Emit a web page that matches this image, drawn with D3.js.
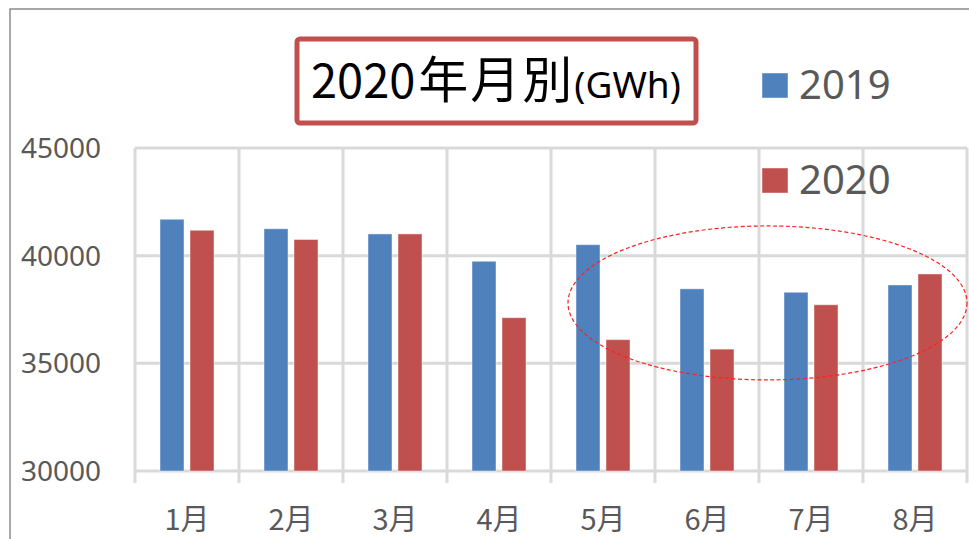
<!DOCTYPE html>
<html>
<head>
<meta charset="utf-8">
<script src="https://cdn.jsdelivr.net/npm/d3@7"></script>
<style>
  html, body { margin: 0; padding: 0; background: #fff; }
  svg { display: block; }
</style>
</head>
<body>
<figure style="margin:0"></figure>
<script>
// data
const months = ["1月", "2月", "3月", "4月", "5月", "6月", "7月", "8月"]
const series = ["2019", "2020"]
const values2019 = [41690, 41250, 41010, 39740, 40510, 38460, 38300, 38640]
const values2020 = [41180, 40750, 41010, 37120, 36100, 35660, 37720, 39150]
const yTicks = [30000, 35000, 40000, 45000]
const highlightMonths = ["5月", "8月"]
const highlightRange = [34230, 41380]

const svgWidth = 969
const svgHeight = 539
const margin = { left: 135, right: 2, top: 148, bottom: 68 }

const svg = d3.select('figure')
  .append('svg')
  .attr('width', svgWidth)
  .attr('height', svgHeight)

// outer frame (top + left)
svg.append('path')
  .attr('d', `M10,${svgHeight} L10,9 L${svgWidth},9`)
  .attr('fill', 'none')
  .attr('stroke', '#8c8c8c')
  .attr('stroke-width', 1.5)

//////// scales ////////
const x = d3.scaleBand()
  .domain(months)
  .range([margin.left, svgWidth - margin.right])
  .padding(0)

const xs = d3.scaleBand()
  .domain(series)
  .range([25, 79])
  .paddingInner(0.2)
  .paddingOuter(0)

const y = d3.scaleLinear()
  .domain([30000, 45000])
  .range([svgHeight - margin.bottom, margin.top])

const color = d3.scaleOrdinal()
  .domain(series)
  .range(["#4F81BD", "#C0504D"])

const grid = '#d9d9d9'

//////// grid ////////
svg.append('g')
  .selectAll('line')
  .data(yTicks)
  .join('line')
  .attr('x1', x.range()[0])
  .attr('x2', x.range()[1])
  .attr('y1', d => y(d))
  .attr('y2', d => y(d))
  .attr('stroke', grid)
  .attr('stroke-width', 3)

const bounds = months.map(m => x(m)).concat([x.range()[1]])
svg.append('g')
  .selectAll('line')
  .data(bounds)
  .join('line')
  .attr('x1', d => d)
  .attr('x2', d => d)
  .attr('y1', y(45000))
  .attr('y2', y(30000) + 12)
  .attr('stroke', grid)
  .attr('stroke-width', 3)

//////// axes labels ////////
svg.append('g')
  .selectAll('text')
  .data(yTicks)
  .join('text')
  .attr('x', 101)
  .attr('y', d => y(d) + 10)
  .attr('text-anchor', 'end')
  .style('font-family', "'Noto Sans', sans-serif")
  .style('font-size', '28px')
  .style('fill', '#595959')
  .text(d => d)

svg.append('g')
  .selectAll('text')
  .data(months)
  .join('text')
  .attr('x', d => x(d) + x.bandwidth() / 2)
  .attr('y', 530)
  .attr('text-anchor', 'middle')
  .style('font-family', "'Noto Sans CJK JP', sans-serif")
  .style('font-size', '29px')
  .style('fill', '#595959')
  .text(d => d)

//////// bars ////////
const rows = months.map((m, i) => ({ month: m, "2019": values2019[i], "2020": values2020[i] }))

svg.append('g')
  .selectAll('g')
  .data(rows)
  .join('g')
  .attr('transform', d => `translate(${x(d.month)},0)`)
  .selectAll('rect')
  .data(d => series.map(s => ({ key: s, value: d[s] })))
  .join('rect')
  .attr('x', d => xs(d.key))
  .attr('y', d => y(d.value))
  .attr('width', xs.bandwidth())
  .attr('height', d => y(30000) - y(d.value))
  .attr('fill', d => color(d.key))
  .attr('stroke', 'rgba(255,255,255,0.45)')
  .attr('stroke-width', 1)

//////// highlight ellipse ////////
const ex0 = x(highlightMonths[0]) + 17
const ex1 = x(highlightMonths[1]) + x.bandwidth()
svg.append('ellipse')
  .attr('cx', (ex0 + ex1) / 2)
  .attr('cy', (y(highlightRange[0]) + y(highlightRange[1])) / 2)
  .attr('rx', (ex1 - ex0) / 2)
  .attr('ry', (y(highlightRange[0]) - y(highlightRange[1])) / 2)
  .attr('fill', 'none')
  .attr('stroke', '#ff2020')
  .attr('stroke-width', 1.2)
  .attr('stroke-dasharray', '4,2.5')

//////// title ////////
svg.append('rect')
  .attr('x', 297)
  .attr('y', 39)
  .attr('width', 399)
  .attr('height', 84)
  .attr('rx', 3)
  .attr('fill', '#fff')
  .attr('stroke', '#C0504D')
  .attr('stroke-width', 5)

const title = svg.append('text')
  .attr('x', 311)
  .attr('y', 98)
  .style('font-family', "'Noto Sans CJK JP', sans-serif")
  .style('fill', '#000')
title.append('tspan')
  .style('font-size', '47px')
  .text('2020')
title.append('tspan')
  .attr('dx', 3)
  .style('font-size', '50px')
  .style('letter-spacing', '2px')
  .text('年月別')
title.append('tspan')
  .style('font-family', "'Noto Sans', sans-serif")
  .style('font-size', '37px')
  .text('(GWh)')

//////// legend ////////
const legend = svg.append('g')
  .selectAll('g')
  .data(series)
  .join('g')
  .attr('transform', (d, i) => `translate(762,${73 + i * 95})`)

legend.append('rect')
  .attr('width', 26)
  .attr('height', 25)
  .attr('fill', d => color(d))
  .attr('stroke', 'rgba(255,255,255,0.45)')

legend.append('text')
  .attr('x', 37)
  .attr('y', 26)
  .style('font-family', "'Noto Sans', sans-serif")
  .style('font-size', '40px')
  .style('fill', '#595959')
  .text(d => d)
</script>
</body>
</html>
